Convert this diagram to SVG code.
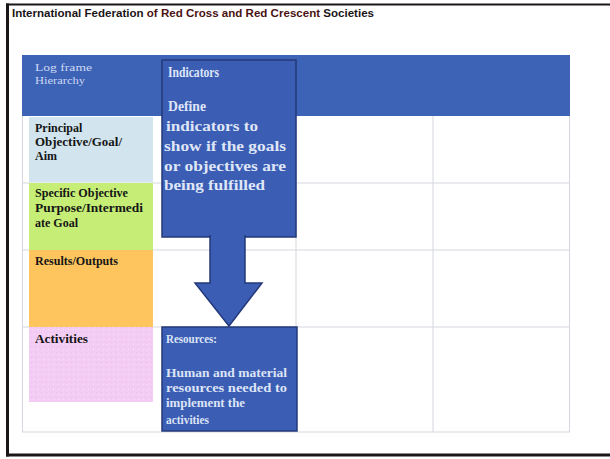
<svg xmlns="http://www.w3.org/2000/svg" width="610" height="459" viewBox="0 0 610 459">
  <defs>
    <pattern id="speckle" width="5" height="5" patternUnits="userSpaceOnUse">
      <rect width="5" height="5" fill="#f4cdf4"/>
      <rect x="1" y="2" width="1" height="1" fill="#ebbdec"/>
      <rect x="3" y="4" width="1" height="1" fill="#f9dcf9"/>
      <rect x="4" y="1" width="1" height="1" fill="#eec3ef"/>
    </pattern>
  </defs>
  <style>
    .frame { stroke: #1b1616; fill: none; }
    .grid { stroke: #d4d7df; stroke-width: 1; fill: none; }
    .band { fill: #3d63b7; }
    .callout { fill: #3b5db3; stroke: #24397a; stroke-width: 1.5; }
    .title { font-family: "Liberation Sans", Arial, sans-serif; font-weight: bold; font-size: 10.5px; fill: #1c1518; }
    .title .red { fill: #4a1212; }
    .hdr { font-family: "Liberation Serif", "Times New Roman", serif; font-size: 10.5px; fill: #cdd8f3; }
    .head { font-family: "Liberation Serif", "Times New Roman", serif; font-size: 14px; font-weight: bold; fill: #dfe6f8; }
    .body { font-family: "Liberation Serif", "Times New Roman", serif; font-size: 15px; font-weight: bold; fill: #dfe6f8; }
    .res { font-family: "Liberation Serif", "Times New Roman", serif; font-size: 12px; font-weight: bold; fill: #dde4f6; }
    .lbl { font-family: "Liberation Serif", "Times New Roman", serif; font-size: 12px; font-weight: bold; fill: #151515; }
  </style>

  <rect width="610" height="459" fill="#ffffff"/>

  <!-- page frame: top, left and bottom rules -->
  <line class="frame" x1="6" y1="4.5" x2="610" y2="4.5" stroke-width="2.2"/>
  <line class="frame" x1="7.5" y1="3.5" x2="7.5" y2="456.5" stroke-width="3"/>
  <line class="frame" x1="6" y1="455" x2="610" y2="455" stroke-width="3"/>

  <g id="title">
    <text class="title" x="12" y="17" textLength="362" lengthAdjust="spacingAndGlyphs">International Federation <tspan class="red">of Red Cross and Red Crescent</tspan> Societies</text>
  </g>

  <!-- logframe table grid -->
  <g id="table-grid">
    <rect class="grid" x="22.5" y="55.5" width="547" height="376.5"/>
    <line class="grid" x1="22" y1="183" x2="570" y2="183"/>
    <line class="grid" x1="22" y1="250" x2="570" y2="250"/>
    <line class="grid" x1="22" y1="327" x2="570" y2="327"/>
    <line class="grid" x1="296" y1="116" x2="296" y2="432"/>
    <line class="grid" x1="433" y1="116" x2="433" y2="432"/>
  </g>

  <g id="header">
    <rect class="band" x="22" y="55" width="548" height="61"/>
    <text class="hdr" x="35" y="70.5" textLength="57" lengthAdjust="spacingAndGlyphs">Log frame</text>
    <text class="hdr" x="35" y="83.5" textLength="50" lengthAdjust="spacingAndGlyphs">Hierarchy</text>
  </g>

  <!-- hierarchy column -->
  <g id="goal">
    <rect x="29" y="117" width="124" height="65" fill="#d2e5ee"/>
    <text class="lbl" x="35" y="132">Principal</text>
    <text class="lbl" x="35" y="146" textLength="87" lengthAdjust="spacingAndGlyphs">Objective/Goal/</text>
    <text class="lbl" x="35" y="160">Aim</text>
  </g>
  <g id="purpose">
    <rect x="29" y="183" width="124" height="67" fill="#c6ee76"/>
    <text class="lbl" x="35" y="197" textLength="93" lengthAdjust="spacingAndGlyphs">Specific Objective</text>
    <text class="lbl" x="35" y="212" textLength="108" lengthAdjust="spacingAndGlyphs">Purpose/Intermedi</text>
    <text class="lbl" x="35" y="227">ate Goal</text>
  </g>
  <g id="outputs">
    <rect x="29" y="250" width="124" height="77" fill="#fec55f"/>
    <text class="lbl" x="35" y="265" textLength="83" lengthAdjust="spacingAndGlyphs">Results/Outputs</text>
  </g>
  <g id="activities">
    <rect x="29" y="327" width="124" height="75" fill="url(#speckle)"/>
    <text class="lbl" x="35" y="343" textLength="53" lengthAdjust="spacingAndGlyphs">Activities</text>
  </g>

  <!-- indicators callout -->
  <g id="indicators">
    <rect class="callout" x="162" y="60" width="134" height="177"/>
    <text class="head" x="168" y="77" textLength="51" lengthAdjust="spacingAndGlyphs">Indicators</text>
    <text class="body" x="168" y="111" textLength="38" lengthAdjust="spacingAndGlyphs">Define</text>
    <text class="body" x="166" y="131" textLength="92" lengthAdjust="spacingAndGlyphs">indicators to</text>
    <text class="body" x="164" y="151" textLength="122" lengthAdjust="spacingAndGlyphs">show if the goals</text>
    <text class="body" x="164" y="171" textLength="122" lengthAdjust="spacingAndGlyphs">or objectives are</text>
    <text class="body" x="164" y="190" textLength="101" lengthAdjust="spacingAndGlyphs">being fulfilled</text>
  </g>

  <g id="resources">
    <rect class="callout" x="162" y="327" width="135" height="104"/>
    <text class="res" x="166" y="343" textLength="51" lengthAdjust="spacingAndGlyphs">Resources:</text>
    <text class="res" x="166" y="377" textLength="121" lengthAdjust="spacingAndGlyphs">Human and material</text>
    <text class="res" x="166" y="392" textLength="121" lengthAdjust="spacingAndGlyphs">resources needed to</text>
    <text class="res" x="166" y="407" textLength="79" lengthAdjust="spacingAndGlyphs">implement the</text>
    <text class="res" x="166" y="424" textLength="43" lengthAdjust="spacingAndGlyphs">activities</text>
  </g>

  <!-- arrow from the indicators box down to resources -->
  <g id="connectors">
    <path class="callout" d="M210,235 V283 H195 L229,326 L262,283 H245 V235"/>
  </g>
</svg>
